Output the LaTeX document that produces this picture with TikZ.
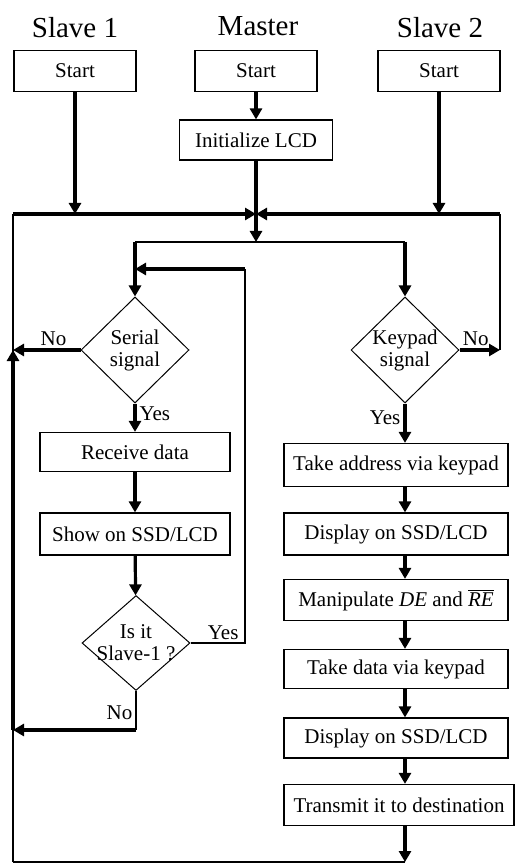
\documentclass[tikz,border=0pt]{standalone}
\usepackage{fontspec}
\setmainfont{Liberation Serif}
\usetikzlibrary{shapes.geometric,arrows.meta}
\begin{document}
\begin{tikzpicture}[x=0.5pt,y=-0.5pt,
    box/.style={draw,line width=0.6pt,rectangle,inner sep=1pt,font=\fontsize{10.5}{12}\selectfont},
    dec/.style={draw,line width=0.5pt,diamond,inner sep=-2.5pt,minimum width=54pt,minimum height=53pt,align=center,font=\fontsize{10.5}{11}\selectfont},
    title/.style={font=\fontsize{14.5}{16}\selectfont},
    lbl/.style={font=\fontsize{10.5}{12}\selectfont,inner sep=1.5pt},
    thinl/.style={line width=0.6pt},
    thickl/.style={line width=1.6pt},
    arr/.style={line width=1.6pt,-{Triangle[length=5.5pt,width=6pt]}}]
\useasboundingbox (0,0) rectangle (516,865);

\node[title] (t1) at (75,28) {Slave 1};
\node[title] (tm) at (258,26) {Master};
\node[title] (t2) at (440,28) {Slave 2};

\node[box,minimum width=61pt,minimum height=20.5pt] (start1) at (75,71) {Start};
\node[box,minimum width=61pt,minimum height=20.5pt] (startm) at (256,71) {Start};
\node[box,minimum width=61pt,minimum height=20.5pt] (start2) at (439,71) {Start};
\node[box,minimum width=76.5pt,minimum height=20pt] (init) at (256,140) {Initialize LCD};

\coordinate (busL) at (13,214);
\coordinate (busC) at (256,214);
\coordinate (busR) at (500,214);
\coordinate (split) at (256,242);

% slave 1 side
\node[dec] (ser) at (135,350) {Serial\\signal};
\node[box,minimum width=95pt,minimum height=19.5pt] (recv) at (135,452) {Receive data};
\node[box,minimum width=95pt,minimum height=21pt] (show) at (135,534) {Show on SSD/LCD};
\node[dec,minimum height=47pt] (isit) at (136,643) {Is it\\Slave-1 ?};
\coordinate (loopR) at (245,269);
\coordinate (noL) at (13,730);
\coordinate (serL) at (13,350);

% master / slave 2 side
\node[dec] (kp) at (405,350) {Keypad\\signal};
\node[box,minimum width=112pt,minimum height=21.5pt] (tad) at (396,465) {Take address via keypad};
\node[box,minimum width=112pt,minimum height=21pt] (dsp1) at (396,534) {Display on SSD/LCD};
\node[box,minimum width=112pt,minimum height=20.5pt] (man) at (396,600) {Manipulate \textit{DE} and $\overline{\mbox{\textit{RE}}}$};
\node[box,minimum width=112pt,minimum height=19.5pt] (tdk) at (396,669) {Take data via keypad};
\node[box,minimum width=112pt,minimum height=20pt] (dsp2) at (396,738) {Display on SSD/LCD};
\node[box,minimum width=115pt,minimum height=20.5pt] (trn) at (399,805) {Transmit it to destination};
\coordinate (kpR) at (500,350);
\coordinate (botL) at (13,862);
\coordinate (botR) at (405,862);

% start lines onto the bus
\draw[arr] (startm) -- (init);
\draw[arr] (start1) -- (start1 |- busC);
\draw[arr] (start2) -- (start2 |- busC);
\draw[thickl] (init) -- (busC);
\draw[arr] (busL) -- (busC);
\draw[arr] (busR) -- (busC);
\draw[arr] (busC) -- (split);
\draw[thinl] (ser |- split) -- (kp |- split);
\draw[arr] (ser |- split) -- (ser.north);
\draw[arr] (kp |- split) -- (kp.north);

% serial branch
\draw[arr] (ser.west) -- node[lbl,above,pos=0.4] {No} (serL);
\draw[arr] (ser.south) -- node[lbl,right,pos=0.35] {Yes} (recv.north);
\draw[arr] (recv) -- (show);
\draw[arr] (show) -- (isit);
\draw[thinl] (isit.east) -- node[lbl,above,pos=0.6] {Yes} (isit.east -| loopR) -- (loopR);
\draw[arr] (loopR) -- (loopR -| ser);
\draw[thinl] (isit.south) -- node[lbl,left,pos=0.55] {No} (isit.south |- noL);
\draw[arr] (isit.south |- noL) -- (noL);
\draw[arr] (noL) -- (serL);
\draw[thinl] (botL) -- (busL);

% keypad branch
\draw[arr] (kp.east) -- node[lbl,above,pos=0.4] {No} (kpR);
\draw[thinl] (kpR) -- (busR);
\draw[arr] (kp.south) -- node[lbl,left,pos=0.35] {Yes} (kp |- tad.north);
\draw[arr] (kp |- tad.south) -- (kp |- dsp1.north);
\draw[arr] (kp |- dsp1.south) -- (kp |- man.north);
\draw[arr] (kp |- man.south) -- (kp |- tdk.north);
\draw[arr] (kp |- tdk.south) -- (kp |- dsp2.north);
\draw[arr] (kp |- dsp2.south) -- (kp |- trn.north);
\draw[arr] (kp |- trn.south) -- (botR);
\draw[thinl] (botR) -- (botL);
\end{tikzpicture}
\end{document}
